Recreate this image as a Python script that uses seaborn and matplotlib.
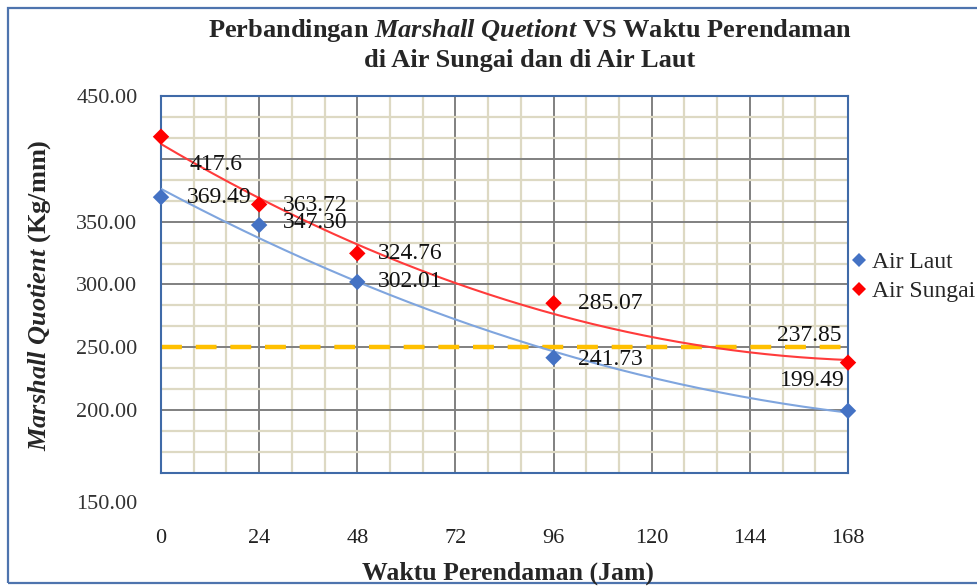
import numpy as np
import pandas as pd
import seaborn as sns
import matplotlib.pyplot as plt
from matplotlib.ticker import MultipleLocator, FixedLocator
from matplotlib.patches import Rectangle

# --- data ---
jam = [0, 24, 48, 96, 168]
air_laut = [369.49, 347.30, 302.01, 241.73, 199.49]
air_sungai = [417.6, 363.72, 324.76, 285.07, 237.85]
label_laut = ['369.49', '347.30', '302.01', '241.73', '199.49']
label_sungai = ['417.6', '363.72', '324.76', '285.07', '237.85']
batas = 250
x_ticks = [0, 24, 48, 72, 96, 120, 144, 168]
y_ticks = [150, 200, 250, 300, 350, 400, 450]
y_ticklabels = ['', '200.00', '250.00', '300.00', '350.00', '', '450.00']

sns.set_theme(style='white')
plt.rcParams['font.family'] = ['Liberation Serif', 'DejaVu Serif']
plt.rcParams['mathtext.fontset'] = 'custom'
plt.rcParams['mathtext.bfit'] = 'Liberation Serif:italic:bold'
plt.rcParams['mathtext.it'] = 'Liberation Serif:italic'
plt.rcParams['mathtext.rm'] = 'Liberation Serif'

df = pd.DataFrame({
    'jam': jam * 2,
    'mq': air_laut + air_sungai,
    'seri': ['Air Laut'] * len(jam) + ['Air Sungai'] * len(jam),
})
warna = {'Air Laut': '#4472C4', 'Air Sungai': '#FF0000'}
warna_tren = {'Air Laut': '#7FA5DE', 'Air Sungai': '#FF3B3B'}

fig = plt.figure(figsize=(9.77, 5.88), dpi=100)
ax = fig.add_axes([161 / 977, 1 - 473 / 588, (848 - 161) / 977, (473 - 96) / 588])

# grid
ax.set_xlim(0, 168)
ax.set_ylim(150, 450)
ax.xaxis.set_major_locator(FixedLocator(x_ticks))
ax.yaxis.set_major_locator(FixedLocator(y_ticks))
ax.xaxis.set_minor_locator(MultipleLocator(8))
ax.yaxis.set_minor_locator(MultipleLocator(50 / 3))
ax.grid(which='minor', color='#DDD9C3', lw=1.6, zorder=0)
ax.grid(which='major', color='#808080', lw=1.4, zorder=0)
ax.set_axisbelow(True)

# batas 250
ax.axhline(batas, color='#FFC000', lw=3.2, dashes=(4.7, 3.1), zorder=2)

# trendlines (2nd order polynomial, as in Excel)
xs = np.linspace(0, 168, 200)
for seri, vals in [('Air Laut', air_laut), ('Air Sungai', air_sungai)]:
    koef = np.polyfit(jam, vals, 2)
    tren = pd.DataFrame({'jam': xs, 'mq': np.polyval(koef, xs)})
    sns.lineplot(data=tren, x='jam', y='mq', color=warna_tren[seri], lw=1.5,
                 ax=ax, zorder=3, legend=False)

sns.scatterplot(data=df, x='jam', y='mq', hue='seri', palette=warna, marker='D',
                s=70, linewidth=0, ax=ax, zorder=4, clip_on=False)

# data labels
geser_laut = [(26, 0, 'left'), (24, 3, 'left'), (21, 0, 'left'), (24, -2, 'left'), (-3, 30, 'right')]
geser_sungai = [(29, -28, 'left'), (24, -1, 'left'), (21, 0, 'left'), (24, 0, 'left'), (-6, 27, 'right')]
for vals, labels, geser in [(air_laut, label_laut, geser_laut), (air_sungai, label_sungai, geser_sungai)]:
    for xv, yv, lb, (dx, dy, ha) in zip(jam, vals, labels, geser):
        ax.annotate(lb, xy=(xv, yv), xytext=(dx, dy), textcoords='offset pixels',
                    ha=ha, va='center', fontsize=17, color='#111111', zorder=5)

# axes styling
for s in ax.spines.values():
    s.set_color('#3F6AA8')
    s.set_linewidth(1.5)
ax.set_yticklabels(y_ticklabels)
ax.tick_params(axis='y', which='both', length=0, pad=17, labelsize=16, labelcolor='#333333')
ax.tick_params(axis='x', which='both', length=0, pad=40, labelsize=16, labelcolor='#222222')
ax.annotate('150.00', xy=(0, 150), xycoords=ax.get_yaxis_transform(), xytext=(-24, -32),
            textcoords='offset pixels', ha='right', va='center', fontsize=16, color='#333333')
ax.set_xlabel('')
ax.set_ylabel('')

leg = ax.legend(loc='center left', bbox_to_anchor=(1.0, 0.52), frameon=False,
                handletextpad=0.1, borderaxespad=0, borderpad=0, labelspacing=0.3,
                handlelength=0.9, fontsize=17, markerscale=0.8)

fig.text(530 / 977, 1 - 31 / 588, r'Perbandingan $\mathbfit{Marshall\ Quetiont}$ VS Waktu Perendaman',
         ha='center', va='center', fontsize=19, fontweight='bold')
fig.text(530 / 977, 1 - 60 / 588, 'di Air Sungai dan di Air Laut',
         ha='center', va='center', fontsize=19, fontweight='bold')
fig.text(40 / 977, 1 - 295 / 588, r'$\mathbfit{Marshall\ Quotient}$ (Kg/mm)', rotation=90,
         ha='center', va='center', fontsize=19, fontweight='bold')
fig.text(508 / 977, 1 - 573 / 588, 'Waktu Perendaman (Jam)', ha='center', va='center',
         fontsize=18.5, fontweight='bold')

fig.add_artist(Rectangle((8 / 977, 5 / 588), 1.0, (583 - 8) / 588, transform=fig.transFigure,
                         fill=False, edgecolor='#4E74AE', lw=1.6))

fig.savefig('out.png', dpi=100)
